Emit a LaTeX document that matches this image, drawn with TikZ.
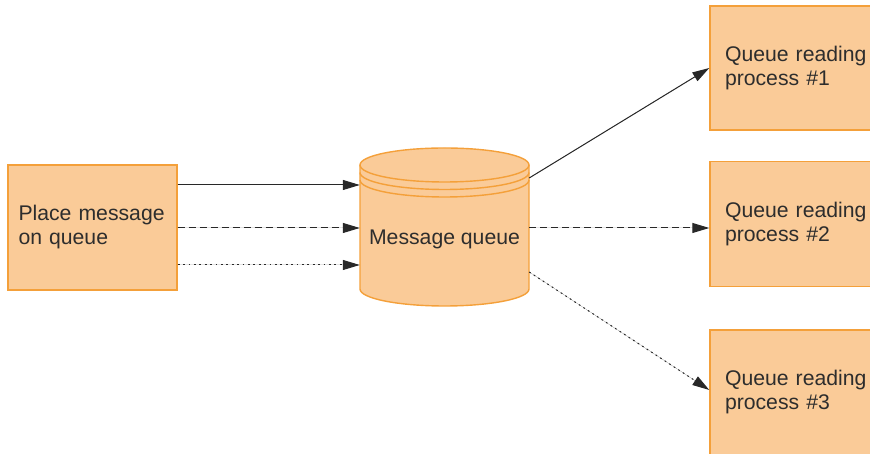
\documentclass[tikz,border=0pt]{standalone}
\usepackage{fontspec}
\setmainfont{Liberation Sans}
\usetikzlibrary{arrows.meta,positioning}
\definecolor{boxfill}{RGB}{250,203,152}
\definecolor{boxline}{RGB}{244,160,58}
\definecolor{textgray}{RGB}{45,45,45}
\definecolor{linegray}{RGB}{40,40,40}

\begin{document}
\begin{tikzpicture}[x=1pt, y=1pt,
            box/.style={rectangle, draw=boxline, fill=boxfill, line width=1.4pt, inner xsep=0pt, align=left, text=textgray, font=\fontsize{21.2}{24}\selectfont},
            arrow/.style={-{Triangle[length=17pt, width=10pt]}, line width=1pt, draw=linegray, fill=linegray},
            dashline/.style={dash pattern=on 7pt off 4pt},
            dotline/.style={dash pattern=on 1.8pt off 3.6pt}
        ]
            \useasboundingbox (0,0) rectangle (870,454);
            \clip (0,0) rectangle (870,454);

            \node[box, minimum width=169pt, minimum height=125pt, text width=148pt] (place) at (92.5,226.5) {Place message\\on queue};

            % Message queue drum
            \fill[boxfill] (360,289) -- (360,165) arc[start angle=180, end angle=360, x radius=84.5, y radius=17] -- (529,289) -- cycle;
            \fill[boxfill] (444.5,289) ellipse[x radius=84.5, y radius=17];
            \draw[boxline, line width=1.4pt] (360,289) -- (360,165) arc[start angle=180, end angle=360, x radius=84.5, y radius=17] -- (529,289);
            \draw[boxline, line width=1.4pt] (444.5,289) ellipse[x radius=84.5, y radius=17];
            \draw[boxline, line width=1.4pt] (360,281.5) arc[start angle=180, end angle=360, x radius=84.5, y radius=17];
            \draw[boxline, line width=1.4pt] (360,274) arc[start angle=180, end angle=360, x radius=84.5, y radius=17];
            \node[text=textgray, font=\fontsize{21.2}{24}\selectfont, minimum width=169pt, inner xsep=0pt] (mq) at (444.5,215) {Message queue};

            \node[box, minimum width=180pt, minimum height=124pt, text width=150pt] (reader1) at (800,386) {Queue reading\\process \#1};
            \node[box, minimum width=180pt, minimum height=125pt, text width=150pt] (reader2) at (800,230) {Queue reading\\process \#2};
            \node[box, minimum width=180pt, minimum height=125pt, text width=150pt] (reader3) at (800,61.5) {Queue reading\\process \#3};

            \draw[arrow] (place.east |- 0,269) -- (mq.west |- 0,269);
            \draw[arrow, dashline] (place.east |- 0,226) -- (mq.west |- 0,226);
            \draw[arrow, dotline] (place.east |- 0,189) -- (mq.west |- 0,189);

            \draw[arrow] (mq.east |- 0,276) -- (reader1.west);
            \draw[arrow, dashline] (mq.east |- 0,226) -- (reader2.west |- 0,226);
            \draw[arrow, dotline] (mq.east |- 0,182) -- (reader3.west |- 0,64);
        \end{tikzpicture}
\end{document}
